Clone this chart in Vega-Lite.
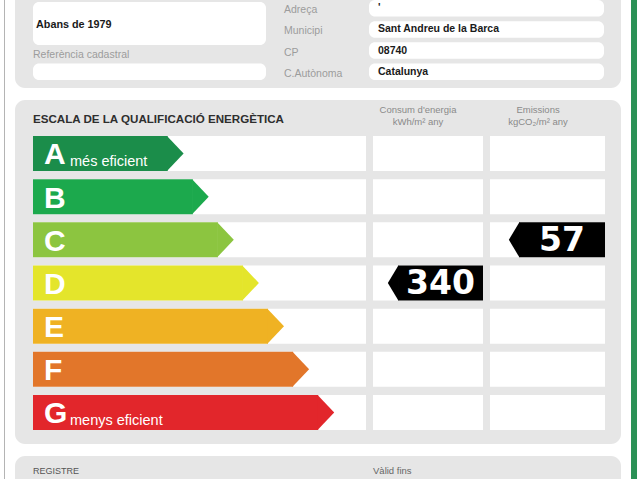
{
  "$schema": "https://vega.github.io/schema/vega-lite/v6.json",
  "background": "#ffffff",
  "padding": {"left": 3, "right": 4, "top": -12, "bottom": -12},
  "spacing": 12,
  "bounds": "flush",
  "datasets": {
    "edifici": [
      {"camp": "Any de construcció", "valor": "Abans de 1979"},
      {"camp": "Referència cadastral", "valor": ""}
    ],
    "ubicacio": [
      {"camp": "Adreça", "valor": "'"},
      {"camp": "Municipi", "valor": "Sant Andreu de la Barca"},
      {"camp": "CP", "valor": "08740"},
      {"camp": "C.Autònoma", "valor": "Catalunya"}
    ],
    "escala": [
      {"classe": "A", "longitud": 6, "nota": "més eficient"},
      {"classe": "B", "longitud": 7, "nota": ""},
      {"classe": "C", "longitud": 8, "nota": ""},
      {"classe": "D", "longitud": 9, "nota": ""},
      {"classe": "E", "longitud": 10, "nota": ""},
      {"classe": "F", "longitud": 11, "nota": ""},
      {"classe": "G", "longitud": 12, "nota": "menys eficient"}
    ],
    "qualificacio": [
      {"indicador": "Consum d'energia", "unitat": "kWh/m² any", "classe": "D", "valor": 340},
      {"indicador": "Emissions", "unitat": "kgCO₂/m² any", "classe": "C", "valor": 57}
    ],
    "titol": [{"titol": "ESCALA DE LA QUALIFICACIÓ ENERGÈTICA"}],
    "registre": [{"camp": "REGISTRE"}, {"camp": "Vàlid fins"}]
  },
  "vconcat": [
    {
      "width": 606,
      "height": 100,
      "view": {"fill": "#e6e6e6", "stroke": null, "cornerRadius": 10},
      "layer": [
        {
          "data": {"name": "ubicacio"},
          "mark": {"type": "rect", "fill": "#ffffff", "cornerRadius": 6},
          "encoding": {
            "x": {"datum": 13.386, "type": "quantitative", "axis": null, "scale": {"domain": [-0.7171, 23.426], "zero": false, "nice": false}},
            "x2": {"datum": 22.749, "type": "quantitative"},
            "y": {"field": "camp", "type": "nominal", "axis": null, "scale": {"type": "band", "domain": ["Adreça", "Municipi", "CP", "C.Autònoma"], "paddingInner": 0.22, "paddingOuter": 0.472, "align": 0.6}}
          }
        },
        {
          "data": {"name": "edifici"},
          "transform": [{"filter": "datum.camp == 'Any de construcció'"}],
          "mark": {"type": "rect", "fill": "#ffffff", "cornerRadius": 6, "height": 43, "yOffset": 15.25},
          "encoding": {
            "x": {"datum": 0, "type": "quantitative", "axis": null},
            "x2": {"datum": 9.283, "type": "quantitative"},
            "y": {"datum": "Adreça", "type": "nominal", "axis": null}
          }
        },
        {
          "data": {"name": "edifici"},
          "transform": [{"filter": "datum.camp == 'Any de construcció'"}],
          "mark": {"type": "text", "align": "left", "baseline": "middle", "dy": -4, "fontSize": 10.8, "fontWeight": "bold", "color": "#1a1a1a"},
          "encoding": {
            "x": {"datum": 0.12, "type": "quantitative", "axis": null},
            "y": {"datum": "Municipi", "type": "nominal", "axis": null},
            "text": {"field": "valor", "type": "nominal"}
          }
        },
        {
          "data": {"name": "edifici"},
          "transform": [{"filter": "datum.camp == 'Referència cadastral'"}],
          "mark": {"type": "text", "align": "left", "baseline": "middle", "dy": 4, "fontSize": 10.5, "color": "#9c9c9c"},
          "encoding": {
            "x": {"datum": 0, "type": "quantitative", "axis": null},
            "y": {"datum": "CP", "type": "nominal", "axis": null},
            "text": {"field": "camp", "type": "nominal"}
          }
        },
        {
          "data": {"name": "edifici"},
          "transform": [{"filter": "datum.camp == 'Referència cadastral'"}],
          "mark": {"type": "rect", "fill": "#ffffff", "cornerRadius": 6},
          "encoding": {
            "x": {"datum": 0, "type": "quantitative", "axis": null},
            "x2": {"datum": 9.283, "type": "quantitative"},
            "y": {"datum": "C.Autònoma", "type": "nominal", "axis": null}
          }
        },
        {
          "data": {"name": "ubicacio"},
          "mark": {"type": "text", "align": "left", "baseline": "middle", "dy": 2, "fontSize": 10.5, "color": "#9c9c9c"},
          "encoding": {
            "x": {"datum": 10.0, "type": "quantitative", "axis": null},
            "y": {"field": "camp", "type": "nominal", "axis": null},
            "text": {"field": "camp", "type": "nominal"}
          }
        },
        {
          "data": {"name": "ubicacio"},
          "mark": {"type": "text", "align": "left", "baseline": "middle", "fontSize": 10.5, "fontWeight": "bold", "color": "#1a1a1a"},
          "encoding": {
            "x": {"datum": 13.745, "type": "quantitative", "axis": null},
            "y": {"field": "camp", "type": "nominal", "axis": null},
            "text": {"field": "valor", "type": "nominal"}
          }
        }
      ]
    },
    {
      "width": 606,
      "height": 344,
      "view": {"fill": "#e6e6e6", "stroke": null, "cornerRadius": 10},
      "layer": [
        {
          "data": {"name": "escala"},
          "mark": {"type": "rect", "fill": "#ffffff"},
          "encoding": {
            "x": {"datum": 0, "type": "quantitative", "axis": null, "scale": {"domain": [-0.7171, 23.426], "zero": false, "nice": false}},
            "x2": {"datum": 13.267, "type": "quantitative"},
            "y": {"field": "classe", "type": "nominal", "axis": null, "scale": {"type": "band", "domain": ["A", "B", "C", "D", "E", "F", "G"], "paddingInner": 0.189, "paddingOuter": 0.579, "align": 0.72}}
          }
        },
        {
          "data": {"name": "escala"},
          "mark": {"type": "rect", "fill": "#ffffff"},
          "encoding": {
            "x": {"datum": 13.546, "type": "quantitative", "axis": null},
            "x2": {"datum": 17.928, "type": "quantitative"},
            "y": {"field": "classe", "type": "nominal", "axis": null}
          }
        },
        {
          "data": {"name": "escala"},
          "mark": {"type": "rect", "fill": "#ffffff"},
          "encoding": {
            "x": {"datum": 18.207, "type": "quantitative", "axis": null},
            "x2": {"datum": 22.789, "type": "quantitative"},
            "y": {"field": "classe", "type": "nominal", "axis": null}
          }
        },
        {
          "data": {"name": "escala"},
          "mark": {"type": "rect", "xOffset": -16},
          "encoding": {
            "x": {"field": "longitud", "type": "quantitative", "axis": null},
            "x2": {"datum": 0, "type": "quantitative"},
            "y": {"field": "classe", "type": "nominal", "axis": null},
            "color": {"field": "classe", "type": "nominal", "legend": null, "scale": {"domain": ["A", "B", "C", "D", "E", "F", "G"], "range": ["#1b8d4a", "#1ca94d", "#8cc540", "#e4e52b", "#efb223", "#e2762a", "#e2262b"]}}
          }
        },
        {
          "data": {"name": "escala"},
          "mark": {"type": "point", "shape": "M-0.95,-1L0,0L-0.95,1Z", "size": 1225, "filled": true, "opacity": 1, "strokeWidth": 0},
          "encoding": {
            "x": {"field": "longitud", "type": "quantitative", "axis": null},
            "y": {"field": "classe", "type": "nominal", "axis": null},
            "color": {"field": "classe", "type": "nominal", "legend": null}
          }
        },
        {
          "data": {"name": "escala"},
          "mark": {"type": "text", "align": "left", "baseline": "middle", "dy": 2, "fontSize": 30, "fontWeight": "bold", "color": "#ffffff"},
          "encoding": {
            "x": {"datum": 0.438, "type": "quantitative", "axis": null},
            "y": {"field": "classe", "type": "nominal", "axis": null},
            "text": {"field": "classe", "type": "nominal"}
          }
        },
        {
          "data": {"name": "escala"},
          "mark": {"type": "text", "align": "left", "baseline": "alphabetic", "dy": 12.5, "fontSize": 14.5, "color": "#ffffff"},
          "encoding": {
            "x": {"datum": 1.474, "type": "quantitative", "axis": null},
            "y": {"field": "classe", "type": "nominal", "axis": null},
            "text": {"field": "nota", "type": "nominal"}
          }
        },
        {
          "data": {"name": "qualificacio"},
          "transform": [{"filter": "datum.indicador == \"Consum d'energia\""}],
          "mark": {"type": "rect", "fill": "#000000"},
          "encoding": {
            "x": {"datum": 14.542, "type": "quantitative", "axis": null},
            "x2": {"datum": 17.928, "type": "quantitative"},
            "y": {"field": "classe", "type": "nominal", "axis": null}
          }
        },
        {
          "data": {"name": "qualificacio"},
          "transform": [{"filter": "datum.indicador == \"Consum d'energia\""}],
          "mark": {"type": "point", "shape": "M0.02,-1L-0.58,0L0.02,1Z", "size": 1225, "filled": true, "opacity": 1, "strokeWidth": 0, "fill": "#000000"},
          "encoding": {
            "x": {"datum": 14.542, "type": "quantitative", "axis": null},
            "y": {"field": "classe", "type": "nominal", "axis": null}
          }
        },
        {
          "data": {"name": "qualificacio"},
          "transform": [{"filter": "datum.indicador == \"Consum d'energia\""}],
          "mark": {"type": "text", "align": "center", "baseline": "middle", "dy": 1, "font": "DejaVu Sans", "fontSize": 33, "fontWeight": "bold", "color": "#ffffff"},
          "encoding": {
            "x": {"datum": 16.235, "type": "quantitative", "axis": null},
            "y": {"field": "classe", "type": "nominal", "axis": null},
            "text": {"field": "valor", "type": "quantitative"}
          }
        },
        {
          "data": {"name": "qualificacio"},
          "transform": [{"filter": "datum.indicador == 'Emissions'"}],
          "mark": {"type": "rect", "fill": "#000000"},
          "encoding": {
            "x": {"datum": 19.363, "type": "quantitative", "axis": null},
            "x2": {"datum": 22.789, "type": "quantitative"},
            "y": {"field": "classe", "type": "nominal", "axis": null}
          }
        },
        {
          "data": {"name": "qualificacio"},
          "transform": [{"filter": "datum.indicador == 'Emissions'"}],
          "mark": {"type": "point", "shape": "M0.02,-1L-0.58,0L0.02,1Z", "size": 1225, "filled": true, "opacity": 1, "strokeWidth": 0, "fill": "#000000"},
          "encoding": {
            "x": {"datum": 19.363, "type": "quantitative", "axis": null},
            "y": {"field": "classe", "type": "nominal", "axis": null}
          }
        },
        {
          "data": {"name": "qualificacio"},
          "transform": [{"filter": "datum.indicador == 'Emissions'"}],
          "mark": {"type": "text", "align": "center", "baseline": "middle", "dy": 1, "font": "DejaVu Sans", "fontSize": 33, "fontWeight": "bold", "color": "#ffffff"},
          "encoding": {
            "x": {"datum": 21.076, "type": "quantitative", "axis": null},
            "y": {"field": "classe", "type": "nominal", "axis": null},
            "text": {"field": "valor", "type": "quantitative"}
          }
        },
        {
          "data": {"name": "titol"},
          "mark": {"type": "text", "align": "left", "baseline": "middle", "dy": -33.5, "fontSize": 11.6, "fontWeight": "bold", "color": "#2e2e2e"},
          "encoding": {
            "x": {"datum": 0, "type": "quantitative", "axis": null},
            "y": {"datum": "A", "type": "nominal", "axis": null},
            "text": {"field": "titol", "type": "nominal"}
          }
        },
        {
          "data": {"name": "qualificacio"},
          "transform": [{"filter": "datum.indicador == \"Consum d'energia\""}],
          "mark": {"type": "text", "align": "center", "baseline": "middle", "dy": -43.5, "fontSize": 9.5, "color": "#8a8a8a"},
          "encoding": {
            "x": {"datum": 15.339, "type": "quantitative", "axis": null},
            "y": {"datum": "A", "type": "nominal", "axis": null},
            "text": {"field": "indicador", "type": "nominal"}
          }
        },
        {
          "data": {"name": "qualificacio"},
          "transform": [{"filter": "datum.indicador == \"Consum d'energia\""}],
          "mark": {"type": "text", "align": "center", "baseline": "middle", "dy": -31.5, "fontSize": 9.5, "color": "#8a8a8a"},
          "encoding": {
            "x": {"datum": 15.339, "type": "quantitative", "axis": null},
            "y": {"datum": "A", "type": "nominal", "axis": null},
            "text": {"field": "unitat", "type": "nominal"}
          }
        },
        {
          "data": {"name": "qualificacio"},
          "transform": [{"filter": "datum.indicador == 'Emissions'"}],
          "mark": {"type": "text", "align": "center", "baseline": "middle", "dy": -43.5, "fontSize": 9.5, "color": "#8a8a8a"},
          "encoding": {
            "x": {"datum": 20.12, "type": "quantitative", "axis": null},
            "y": {"datum": "A", "type": "nominal", "axis": null},
            "text": {"field": "indicador", "type": "nominal"}
          }
        },
        {
          "data": {"name": "qualificacio"},
          "transform": [{"filter": "datum.indicador == 'Emissions'"}],
          "mark": {"type": "text", "align": "center", "baseline": "middle", "dy": -31.5, "fontSize": 9.5, "color": "#8a8a8a"},
          "encoding": {
            "x": {"datum": 20.12, "type": "quantitative", "axis": null},
            "y": {"datum": "A", "type": "nominal", "axis": null},
            "text": {"field": "unitat", "type": "nominal"}
          }
        },
        {
          "data": {"name": "titol"},
          "mark": {"type": "rect", "fill": "#b4b4b4", "height": 479, "yOffset": -43.5},
          "encoding": {
            "x": {"datum": -1.1554, "type": "quantitative", "axis": null},
            "x2": {"datum": -1.1155, "type": "quantitative"},
            "y": {"datum": "D", "type": "nominal", "axis": null}
          }
        },
        {
          "data": {"name": "titol"},
          "mark": {"type": "rect", "fill": "#2a9156", "height": 479, "yOffset": -43.5},
          "encoding": {
            "x": {"datum": 23.825, "type": "quantitative", "axis": null},
            "x2": {"datum": 24.064, "type": "quantitative"},
            "y": {"datum": "D", "type": "nominal", "axis": null}
          }
        }
      ]
    },
    {
      "width": 606,
      "height": 35,
      "view": {"fill": "#e6e6e6", "stroke": null, "cornerRadius": 10},
      "layer": [
        {
          "data": {"name": "registre"},
          "transform": [{"filter": "datum.camp == 'REGISTRE'"}],
          "mark": {"type": "text", "align": "left", "baseline": "middle", "dy": -2.5, "fontSize": 9, "color": "#555555"},
          "encoding": {
            "x": {"datum": 0, "type": "quantitative", "axis": null, "scale": {"domain": [-0.7171, 23.426], "zero": false, "nice": false}},
            "text": {"field": "camp", "type": "nominal"}
          }
        },
        {
          "data": {"name": "registre"},
          "transform": [{"filter": "datum.camp == 'Vàlid fins'"}],
          "mark": {"type": "text", "align": "left", "baseline": "middle", "dy": -3, "fontSize": 9.5, "color": "#666666"},
          "encoding": {
            "x": {"datum": 13.546, "type": "quantitative", "axis": null},
            "text": {"field": "camp", "type": "nominal"}
          }
        }
      ]
    }
  ],
  "config": {
    "view": {"stroke": null},
    "text": {"font": "Liberation Sans"}
  }
}
